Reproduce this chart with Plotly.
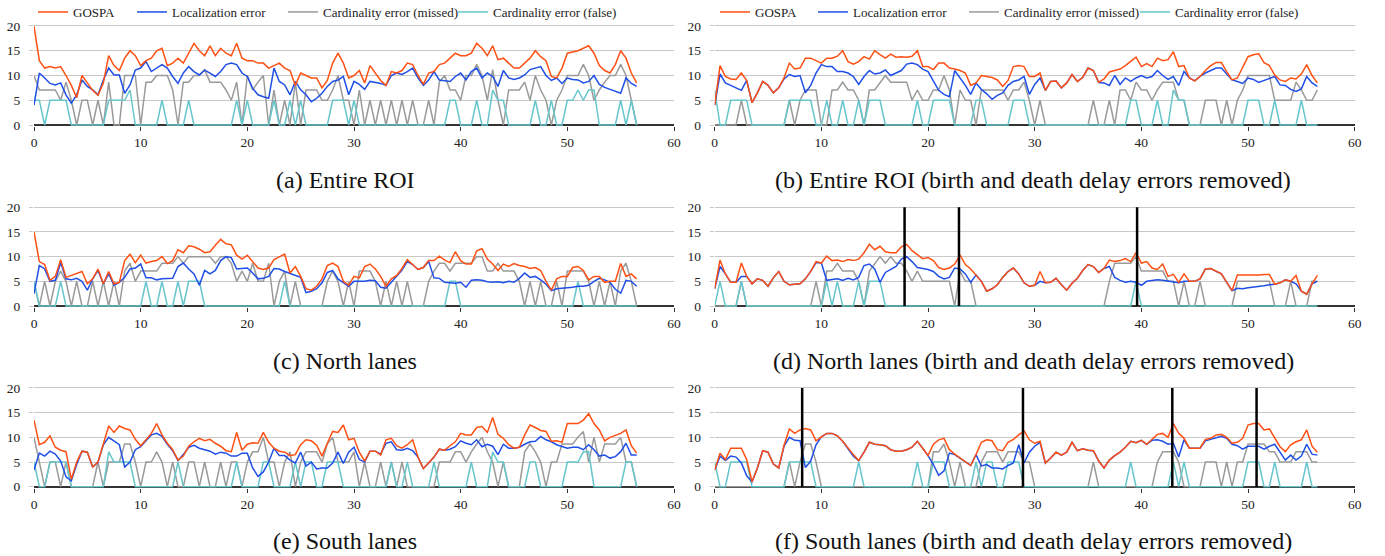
import plotly.graph_objects as go

# time grid (s), one sample every 0.5 s
t = [i * 0.5 for i in range(114)]

# ---------------- (a) Entire ROI ----------------
a_gospa = [20, 13, 11.5, 11.8, 11.5, 11.8, 10, 8, 5.5, 10,
           8.5, 7, 6, 8.5, 14, 12, 11, 13.5, 15, 14,
           12, 13, 13.5, 15, 15.5, 12, 12.5, 13.5, 12.5, 14.5,
           16.5, 15, 14, 16, 14, 15.5, 14.5, 14, 16.5, 13.5,
           13, 13, 12.5, 12.5, 11.5, 12, 12.5, 11.5, 11, 8,
           10.5, 10, 9.5, 9.5, 7.5, 9, 12.5, 14.5, 12.5, 9.5,
           10, 11, 8.5, 12, 10.5, 9, 8, 10.8, 10.5, 11,
           12.5, 12.2, 10, 8.2, 10.5, 10.8, 12.2, 12.5, 13.5, 14.5,
           14, 14, 14.5, 16.5, 15.5, 14, 16, 13.2, 13.5, 12.5,
           11.5, 11.5, 12.5, 13.5, 15, 13.8, 13, 9.8, 9.5, 11.5,
           14.5, 14.8, 15, 15.5, 16, 14.5, 12, 11, 10.5, 12.2,
           15, 13.5, 10.5, 8.5]
a_loc = [4, 10.5, 9.5, 8.4, 8.1, 8.5, 6.1, 4.4, 6.1, 9.1,
         7.8, 7.1, 6.1, 9.1, 11.5, 10.1, 10.1, 6.4, 8.1, 11.1,
         11.5, 12.8, 10.8, 11.5, 12.2, 11.5, 9.8, 8.4, 10.5, 11.8,
         10.8, 10.1, 11.1, 10.5, 9.8, 10.8, 12.2, 12.5, 12.2, 10.5,
         9.8, 7.4, 6.1, 5.7, 5.4, 11.5, 8.8, 8.1, 6.1, 8.8,
         7.1, 6.1, 4.7, 5.4, 6.4, 7.8, 8.8, 9.1, 9.8, 6.1,
         8.8, 8.2, 7.2, 8.8, 8.6, 8.4, 8, 10, 10.5, 10.2,
         10.8, 11.5, 9.5, 8, 9.1, 10.8, 9.1, 9, 8.8, 9.8,
         10.5, 9.1, 10.8, 11.5, 9.5, 10.5, 9.8, 7.8, 11, 9.5,
         9.2, 9.5, 10.1, 11.2, 11.5, 11.8, 10, 9, 9.5, 8.4,
         9.5, 9.2, 9.1, 8.5, 8.8, 10, 8.2, 7.6, 7.2, 6.8,
         6.4, 9.5, 8.4, 7.8]
a_miss = [10, 7.07, 7.07, 7.07, 7.07, 5, 8.66, 5, 0, 5,
          5, 0, 5, 0, 8.66, 0, 0, 10, 10, 10,
          0, 8.66, 8.66, 10, 10, 10, 7.07, 0, 8.66, 8.66,
          10, 10, 11.18, 8.66, 8.66, 8.66, 7.07, 5, 8.66, 0,
          10, 7.07, 8.66, 10, 0, 7.07, 0, 5, 0, 8.66,
          0, 7.07, 7.07, 7.07, 5, 5, 7.07, 10, 5, 5,
          0, 7.07, 0, 5, 0, 5, 0, 5, 0, 5,
          0, 5, 0, 0, 5, 0, 8.66, 10, 7.07, 7.07,
          5, 10, 10, 12.25, 10, 5, 11.18, 5, 0, 7.07,
          7.07, 7.07, 8.66, 5, 10, 7.07, 5, 0, 5, 7.07,
          10, 10, 10, 12.25, 10, 5, 7.07, 8.66, 10, 10,
          12.25, 10, 5, 0]
a_false = [5, 5, 0, 5, 5, 5, 5, 0, 0, 0,
           0, 0, 0, 0, 5, 5, 5, 5, 7.07, 0,
           0, 0, 0, 0, 5, 0, 0, 0, 0, 5,
           0, 0, 0, 0, 0, 0, 0, 0, 5, 0,
           5, 0, 0, 0, 0, 5, 0, 0, 5, 0,
           5, 0, 0, 0, 0, 0, 5, 5, 5, 0,
           5, 0, 0, 0, 0, 0, 0, 0, 0, 0,
           0, 0, 0, 0, 0, 0, 0, 0, 5, 5,
           0, 0, 0, 5, 0, 0, 7.07, 5, 5, 0,
           0, 0, 0, 0, 5, 0, 0, 5, 0, 0,
           5, 5, 7.07, 5, 7.07, 7.07, 0, 0, 0, 0,
           5, 0, 5, 0]

# ---------------- (b) Entire ROI, delays removed ----------------
b_gospa = [4, 12, 9.8, 9.3, 9.2, 10.5, 9, 4.5, 6.5, 8.8,
           8, 6.5, 7.5, 9.5, 12.5, 11.3, 11.5, 13.5, 13.5, 13,
           12.5, 13.5, 13.5, 13.9, 15, 12.8, 12.3, 12.8, 13.8, 13.3,
           15, 14.2, 13.5, 14.3, 13.7, 13.8, 13.7, 13.9, 15, 11.8,
           11.8, 11.2, 12.5, 12.5, 11.5, 11.3, 11, 10.5, 8, 8.5,
           10, 9.8, 9.6, 9.1, 7.8, 9, 11.8, 12, 11.8, 9.8,
           9.8, 10.5, 7, 8.8, 8.9, 7.5, 8.5, 10.2, 8.8, 9.6,
           11.5, 11, 8.6, 9.3, 10.7, 11, 11.3, 12, 12.8, 13.7,
           11.8, 12.4, 11.8, 13.5, 13, 13.2, 14.8, 11.8, 12, 9.5,
           8.9, 9.8, 11, 12, 12.6, 12.6, 10.8, 9.1, 9.5, 11.5,
           13.8, 14.2, 14.4, 12.6, 12, 10.1, 9.1, 8.8, 9.5, 9.3,
           10.3, 12.2, 10, 8.5]
b_loc = [4, 10.3, 8.5, 8, 7.5, 7, 9, 4.5, 6.5, 8.8,
         8, 6.5, 7.5, 9.3, 10.2, 9.8, 10, 6.5, 8, 10.5,
         12.2, 11.8, 11.8, 10.8, 10.8, 10.5, 9.8, 8.2, 9.8, 11,
         10.3, 10.5, 11.1, 10, 10.5, 11, 12.3, 12.5, 12.2, 11.3,
         10.8, 9, 7, 6.2, 5.7, 11, 9.5, 8, 6.2, 8.5,
         7.2, 6.3, 5.2, 6, 6.5, 8, 8.8, 9.1, 9.8, 6.2,
         8.2, 9.5, 7, 8.8, 8.9, 7.5, 8.5, 10.2, 8.8, 9.6,
         11.5, 11, 8.6, 8.5, 8, 10, 8.2, 9.5, 8.8, 9.5,
         10, 9.5, 9.8, 11, 10, 9.2, 9.8, 8, 10.8, 9.5,
         8.9, 9.8, 10.5, 11, 11.5, 11.5, 10.3, 9.1, 8.8, 8.4,
         9.5, 9.2, 8.6, 9, 9.5, 9.8, 8.1, 8, 7.2, 6.8,
         7.3, 9.8, 8.5, 7.8]
b_miss = [0, 0, 0, 0, 0, 5, 0, 0, 0, 0,
          0, 0, 0, 0, 5, 0, 5, 7.07, 7.07, 7.07,
          0, 0, 7.07, 7.07, 8.66, 7.07, 7.07, 5, 0, 7.07,
          7.07, 8.66, 10, 8.66, 8.66, 8.66, 8.66, 5, 7.07, 5,
          5, 7.07, 7.07, 10, 7.07, 0, 7.07, 5, 5, 0,
          7.07, 7.07, 7.07, 7.07, 7.07, 5, 7.07, 7.07, 8.66, 5,
          0, 5, 0, 0, 0, 0, 0, 0, 0, 0,
          0, 5, 0, 0, 5, 0, 7.07, 7.07, 5, 8.66,
          7.07, 7.07, 5, 7.07, 8.66, 8.66, 8.66, 5, 5, 0,
          0, 0, 5, 5, 5, 0, 5, 0, 5, 7.07,
          10, 10, 10, 10, 10, 5, 5, 5, 5, 8.66,
          7.07, 5, 5, 7.07]
b_false = [7.07, 0, 0, 5, 5, 5, 5, 0, 0, 0,
           0, 0, 0, 0, 5, 5, 5, 5, 5, 0,
           0, 5, 0, 0, 5, 0, 0, 5, 0, 5,
           5, 5, 0, 0, 0, 0, 0, 0, 5, 0,
           0, 5, 5, 5, 5, 0, 0, 0, 0, 5,
           5, 0, 0, 0, 0, 0, 5, 5, 5, 0,
           0, 0, 0, 0, 0, 0, 0, 0, 0, 0,
           0, 0, 0, 0, 0, 0, 0, 0, 5, 5,
           0, 0, 0, 5, 0, 0, 7.07, 5, 5, 0,
           0, 0, 0, 0, 0, 0, 0, 0, 0, 0,
           5, 5, 5, 0, 0, 5, 0, 0, 0, 0,
           5, 0, 0, 0]

# ---------------- (c) North lanes ----------------
c_gospa = [15, 9, 8.4, 5.2, 6, 9.4, 5.8, 6.2, 6.5, 7,
           4.5, 5.5, 7.5, 4.5, 7, 4.5, 4.8, 9.2, 10.5, 8.8,
           10.3, 8.7, 9, 9.2, 10, 8.6, 9.2, 11.4, 10.8, 12.2,
           12, 11.5, 10.8, 11, 12.3, 13.5, 12.6, 12.4, 10.3, 9.5,
           10.3, 9, 7.7, 7.4, 7.7, 9.4, 10, 10.5, 6.7, 8,
           6, 3.5, 3.2, 4, 5.5, 8.2, 8.7, 8, 5, 4.2,
           6, 5.7, 8, 8.5, 7.5, 6, 4, 5.5, 6.2, 7.6,
           9.4, 8.4, 7.4, 7.8, 9.2, 9.2, 10.1, 9.3, 8.8, 11,
           9.2, 8.5, 8.5, 11.2, 11.6, 9.5, 8.5, 7.2, 8.5, 8,
           8.6, 8.2, 8, 7.6, 7.8, 7.2, 5, 3.2, 5.5, 6,
           6, 7.8, 8, 7.2, 5.3, 6, 6, 4.8, 5, 5,
           8.6, 6, 6.5, 5.5]
c_loc = [2.5, 8.2, 7.5, 5, 5.2, 8.8, 5.5, 5.3, 5.6, 5,
         3.2, 5.5, 7.2, 4.5, 6.5, 4.2, 4.8, 5.8, 7.5, 7.7,
         8.5, 5.7, 5.7, 5.3, 5.5, 5.6, 5.6, 8, 8.7, 7.5,
         6.5, 4.2, 7.2, 6.5, 7.2, 9.2, 10, 9.8, 7.5, 7.6,
         7.7, 6.7, 5.5, 5.6, 6, 7.6, 7.5, 7, 6.6, 6.3,
         5.8, 2.7, 3, 3.5, 4.7, 6.8, 7.2, 5.5, 4.8, 4,
         5, 5, 5, 5.2, 5.1, 3.8, 3.6, 4.8, 6, 7.3,
         9, 8.4, 7.4, 7.8, 9, 5.7, 5.6, 4.8, 4.7, 4.6,
         4.8, 3.8, 5.2, 5.3, 5.2, 4.9, 4.8, 4.9, 4.7, 5,
         4.8, 5.6, 6.7, 5.8, 6, 5.3, 4.4, 3.1, 3.5, 3.6,
         3.6, 3.8, 4, 4, 4.2, 5, 5.6, 5.3, 4.8, 3.4,
         2.6, 5.2, 5, 4]
c_miss = [5, 0, 5, 0, 5, 7.07, 5, 0, 5, 0,
          0, 5, 0, 5, 0, 5, 0, 7.07, 8.66, 5,
          7.07, 7.07, 7.07, 7.07, 8.66, 8.66, 8.66, 10, 8.66, 10,
          10, 10, 10, 10, 8.66, 10, 10, 8.66, 5, 7.07,
          5, 8.66, 5, 5, 8.66, 0, 5, 7.07, 0, 5,
          0, 0, 0, 0, 0, 5, 7.07, 5, 0, 5,
          0, 7.07, 7.07, 7.07, 5, 0, 5, 0, 5, 0,
          5, 0, 0, 0, 5, 7.07, 8.66, 8.66, 7.07, 8.66,
          8.66, 8.66, 8.66, 10, 10, 7.07, 7.07, 8.66, 7.07, 7.07,
          7.07, 5, 0, 5, 0, 5, 0, 0, 5, 0,
          7.07, 7.07, 7.07, 7.07, 5, 0, 5, 0, 5, 0,
          7.07, 8.66, 5, 0]
c_false = [5, 0, 0, 0, 0, 5, 0, 0, 0, 0,
           0, 0, 0, 0, 0, 0, 0, 0, 0, 0,
           0, 5, 0, 0, 5, 0, 0, 5, 0, 5,
           5, 5, 0, 0, 0, 0, 0, 0, 0, 0,
           0, 0, 0, 0, 0, 0, 0, 5, 0, 0,
           0, 0, 0, 0, 0, 0, 0, 0, 0, 0,
           0, 0, 0, 0, 0, 0, 0, 0, 0, 0,
           0, 0, 0, 0, 0, 0, 0, 0, 5, 5,
           0, 0, 0, 0, 0, 0, 0, 0, 0, 0,
           0, 0, 0, 0, 0, 0, 0, 0, 0, 0,
           0, 0, 5, 0, 0, 0, 0, 0, 0, 0,
           0, 0, 0, 0]

# ---------------- (d) North lanes, delays removed ----------------
d_gospa = [3.5, 9.3, 6.5, 4.8, 4.8, 8.7, 6, 4.5, 5.5, 5.2,
           4, 5.7, 7, 5, 4.3, 4.4, 4.5, 5.5, 7, 9,
           8.7, 10.1, 9.2, 9.3, 9, 9.4, 9.2, 9.5, 10.8, 12.5,
           11.4, 12.1, 11, 10.8, 10.8, 12, 12.5, 11.2, 10.4, 9.6,
           9.8, 9.2, 7.8, 7.4, 7.7, 8.5, 10.3, 8.4, 7.5, 6.3,
           5, 3, 3.5, 4.3, 5.8, 7, 7.7, 6.5, 4.7, 4,
           4.2, 7, 4.7, 4.8, 5.6, 4.3, 3.2, 4.6, 5.6, 7.2,
           8.4, 8, 6.8, 7.6, 9.3, 9, 9.2, 9.6, 9, 10.8,
           8.7, 9, 7.7, 7.4, 8.5, 6, 6.4, 4.8, 6.5, 5,
           5, 5.5, 7.5, 7.6, 7.1, 6.5, 4.8, 3.1, 6.3, 6.3,
           6.2, 6.2, 6.3, 6.4, 6.4, 4.4, 4.7, 5.3, 5, 6.2,
           3, 2.4, 4.5, 6.2]
d_loc = [3.5, 8, 6.5, 4.8, 4.8, 6, 6, 4.5, 5.5, 5.2,
         4, 5.7, 7, 5, 4.3, 4.4, 4.5, 5.5, 7, 8.8,
         8.7, 5.2, 5.3, 5.5, 5.2, 5.6, 5.3, 5.8, 8.2, 8.5,
         7.5, 4.8, 6.8, 7.4, 8, 9.5, 10, 9, 7.8, 7.6,
         7.4, 7, 6, 5.5, 5.8, 7.7, 7.5, 6.5, 4.8, 6.3,
         5, 3, 3.5, 4.3, 5.8, 7, 7.7, 6.5, 4.7, 4,
         4.2, 5, 4.7, 4.8, 5.6, 4.3, 3.2, 4.6, 5.6, 7.2,
         8.4, 8, 6.8, 7.6, 8, 5.8, 5.2, 4.8, 5, 4.8,
         4.2, 5, 5.2, 5.3, 5.2, 5, 4.8, 4.7, 5, 5,
         5, 5.5, 7.5, 7.6, 7.1, 6.5, 4.8, 3.1, 3.6, 3.5,
         3.7, 3.8, 3.9, 4.1, 4.3, 4.4, 4.7, 5.3, 5, 4.5,
         3, 2.4, 4.5, 5]
d_miss = [0, 0, 0, 0, 0, 5, 0, 0, 0, 0,
          0, 0, 0, 0, 0, 0, 0, 0, 0, 5,
          0, 7.07, 7.07, 8.66, 7.07, 7.07, 7.07, 5, 0, 7.07,
          8.66, 10, 8.66, 10, 8.66, 8.66, 7.07, 5, 7.07, 5,
          5, 5, 5, 5, 5, 0, 7.07, 5, 5, 0,
          0, 0, 0, 0, 0, 0, 0, 0, 0, 0,
          0, 0, 0, 0, 0, 0, 0, 0, 0, 0,
          0, 0, 0, 0, 5, 8.66, 8.66, 8.66, 8.66, 10,
          7.07, 7.07, 7.07, 7.07, 7.07, 5, 5, 0, 5, 0,
          0, 5, 0, 0, 0, 0, 0, 0, 5, 5,
          5, 5, 5, 5, 5, 0, 0, 0, 5, 0,
          0, 0, 5, 5]
d_false = [0, 5, 0, 0, 0, 5, 0, 0, 0, 0,
           0, 0, 0, 0, 0, 0, 0, 0, 0, 0,
           0, 5, 0, 5, 0, 0, 0, 5, 0, 5,
           5, 5, 0, 0, 0, 0, 0, 0, 0, 0,
           0, 0, 0, 0, 0, 0, 0, 0, 0, 0,
           0, 0, 0, 0, 0, 0, 0, 0, 0, 0,
           0, 0, 0, 0, 0, 0, 0, 0, 0, 0,
           0, 0, 0, 0, 0, 0, 0, 0, 0, 5,
           0, 0, 0, 0, 0, 0, 0, 0, 0, 0,
           0, 0, 0, 0, 0, 0, 0, 0, 0, 0,
           0, 0, 0, 0, 0, 0, 0, 0, 0, 0,
           0, 0, 0, 0]
d_marks = [17.8, 22.9, 39.6]

# ---------------- (e) South lanes ----------------
e_gospa = [13.5, 8.5, 9, 10.3, 8, 7.4, 7.1, 1.5, 5, 7.2,
           7, 4, 5, 8.8, 12.3, 11, 12.3, 11.8, 11.5, 9.6,
           8.3, 9.5, 10.8, 12.8, 10.5, 8.8, 7.5, 5.4, 6.2, 8.2,
           9.1, 9.8, 9.3, 9.6, 8.8, 8.2, 7.3, 7.1, 11, 7.4,
           8.6, 8.9, 8.8, 11, 9, 7.8, 7.2, 7, 6.3, 6.5,
           8.5, 9.5, 9.3, 8.4, 6.2, 8.8, 11.2, 11, 12.5, 9.5,
           9.8, 7, 5.2, 7.2, 7.2, 6.4, 9.5, 9.8, 8.3, 7.8,
           8.5, 9.5, 6, 3.7, 4.8, 6, 7.6, 7.4, 8.3, 9.1,
           10.8, 10.5, 10.5, 12, 12.2, 11, 14, 10.6, 9.8, 8.5,
           7.8, 8, 10.5, 12.5, 12, 11.4, 11.2, 9.2, 9.3, 9,
           12.8, 12.8, 12.8, 13.5, 14.8, 12.8, 11.5, 9.3, 10, 10.4,
           10.8, 11.5, 8.3, 6.8]
e_loc = [3.4, 6.8, 6.2, 7.2, 6.6, 5.2, 2, 1.2, 4.5, 7.2,
         7, 4, 5, 8.5, 10, 9.2, 8.5, 4, 5, 7.5,
         8.1, 9.3, 10.5, 10.8, 10.2, 8.6, 7.3, 5.3, 6.5, 8,
         8.4, 7.8, 7.5, 7.2, 6.6, 7, 6.8, 6.2, 6.2, 6.8,
         6.8, 3.8, 2.1, 3, 5, 7.8, 6.3, 6.3, 5.4, 4.8,
         7, 4.2, 5, 3.6, 3.8, 3.8, 4.8, 7, 4.7, 7,
         8, 5.5, 5, 7.2, 7.2, 6.6, 8.8, 9.1, 7.5, 7.4,
         7.8, 7.3, 6, 3.7, 4.8, 6, 7.6, 7.4, 7.6, 8.1,
         9.3, 8.8, 8.5, 9.5, 8.1, 8.6, 8.2, 6.5, 8.6, 7.8,
         7.8, 8, 8.6, 9.1, 9.2, 10.2, 9.5, 9.1, 8.5, 8.2,
         7.8, 8, 8, 7.5, 8.5, 7.5, 6.2, 6.4, 5.8, 6.1,
         7.1, 8.8, 6.4, 6.4]
e_miss = [10, 5, 0, 5, 5, 0, 5, 0, 0, 0,
          0, 0, 5, 0, 5, 5, 5, 8.66, 8.66, 5,
          0, 5, 5, 7.07, 5, 0, 5, 0, 0, 5,
          5, 0, 5, 0, 0, 5, 0, 5, 5, 0,
          5, 7.07, 7.07, 10, 5, 5, 0, 5, 7.07, 0,
          5, 7.07, 7.07, 7.07, 5, 8.66, 10, 5, 5, 5,
          7.07, 0, 5, 0, 0, 5, 0, 5, 0, 5,
          0, 0, 0, 0, 0, 0, 5, 5, 5, 7.07,
          7.07, 5, 7.07, 8.66, 10, 7.07, 5, 0, 5, 0,
          0, 0, 7.07, 8.66, 7.07, 5, 0, 5, 5, 8.66,
          8.66, 8.66, 10, 11.18, 5, 10, 5, 8.66, 8.66, 8.66,
          10, 5, 5, 0]
e_false = [5, 0, 0, 5, 5, 5, 5, 0, 0, 0,
           0, 0, 0, 0, 7.07, 5, 5, 5, 5, 0,
           0, 0, 0, 0, 0, 0, 0, 5, 0, 0,
           0, 0, 0, 0, 0, 0, 0, 0, 5, 0,
           0, 0, 0, 5, 5, 0, 0, 0, 0, 5,
           0, 5, 5, 0, 0, 5, 5, 5, 0, 0,
           0, 0, 0, 0, 0, 0, 0, 5, 0, 0,
           5, 0, 0, 0, 0, 5, 0, 0, 0, 0,
           0, 0, 5, 0, 0, 0, 7.07, 5, 5, 0,
           0, 0, 0, 5, 5, 0, 0, 0, 0, 0,
           5, 5, 5, 7.07, 7.07, 0, 0, 0, 0, 0,
           0, 5, 5, 0]

# ---------------- (f) South lanes, delays removed ----------------
f_gospa = [3.4, 6.8, 5.5, 7.8, 7.8, 7.8, 5.5, 1, 3.8, 7.3,
           7, 4.6, 3.8, 8.4, 11.7, 10.8, 11.5, 11.8, 11.5, 9.3,
           10.1, 10.8, 10.8, 10.3, 9.2, 7.8, 6.5, 5.3, 7, 9,
           8.6, 8.5, 8.3, 7.5, 7.2, 7.2, 7.5, 8, 9.2, 7.8,
           6.3, 8.6, 9.5, 9.8, 7.5, 6.6, 5.8, 5.1, 4.3, 6.5,
           9, 9.5, 9.3, 7.5, 7.3, 9, 9.6, 10.5, 11.3, 9.5,
           8.8, 9.2, 4.8, 5.8, 7, 6.4, 7, 9, 7.3, 7.7,
           7.4, 7.3, 5.2, 3.8, 5.4, 6.3, 7, 8, 9.2, 8.9,
           9.4, 8.6, 9.6, 10.6, 10.8, 10, 12.8, 10.8, 9.8, 7.8,
           7.8, 7.8, 9.6, 9.8, 10.5, 10.6, 10, 8.8, 9, 9.8,
           12.5, 12.8, 12.8, 11.5, 11.7, 9.8, 8.1, 7.1, 8.5, 9.1,
           9.5, 11.5, 8.2, 7]
f_loc = [3.4, 6.2, 5.3, 6.2, 6, 4.8, 2.2, 1, 3.8, 7.3,
         7, 4.6, 3.8, 8.2, 10, 9.4, 9.3, 3.9, 5.2, 8.5,
         10.1, 10.8, 10.8, 10.3, 9.2, 7.8, 6.2, 5.3, 7, 9,
         8.6, 8.5, 8.3, 7.5, 7.2, 7.2, 7.5, 8, 9.2, 7.8,
         6.3, 4.5, 2.3, 3.2, 6.8, 6.5, 5.8, 5.1, 4.3, 6.5,
         4.2, 4.5, 3.8, 3.8, 3.6, 4.3, 4.8, 8.5, 4.8, 7,
         8.2, 9, 4.8, 5.8, 7, 6.4, 7, 9, 7.3, 7.7,
         7.4, 7.3, 5.2, 3.8, 5.4, 6.3, 7, 8, 9.2, 8.9,
         9.4, 8.6, 9.4, 9.5, 9.2, 8.6, 8.8, 6, 9.5, 7.8,
         7.8, 7.8, 9.3, 9.6, 10, 10.2, 9.8, 8.6, 8.3, 7.6,
         8.2, 8.2, 8.2, 7.6, 8.2, 8.6, 7.1, 5.4, 6.4, 5.4,
         6.2, 8.6, 6.6, 6.4]
f_miss = [0, 0, 0, 0, 0, 0, 0, 0, 0, 0,
          0, 0, 0, 0, 5, 0, 5, 8.66, 8.66, 5,
          0, 0, 0, 0, 0, 0, 0, 0, 0, 0,
          0, 0, 0, 0, 0, 0, 0, 0, 0, 0,
          0, 7.07, 7.07, 8.66, 5, 0, 5, 0, 0, 0,
          5, 7.07, 7.07, 7.07, 5, 7.07, 7.07, 7.07, 5, 5,
          0, 0, 0, 0, 0, 0, 0, 0, 0, 0,
          0, 5, 0, 0, 0, 0, 0, 0, 0, 0,
          0, 0, 0, 5, 7.07, 7.07, 7.07, 5, 0, 0,
          0, 0, 5, 5, 5, 0, 5, 0, 5, 5,
          8.66, 8.66, 8.66, 8.66, 7.07, 7.07, 5, 5, 5, 7.07,
          7.07, 7.07, 5, 5]
f_false = [5, 0, 0, 5, 5, 5, 5, 0, 0, 0,
           0, 0, 0, 0, 5, 5, 5, 5, 5, 0,
           0, 0, 0, 0, 0, 0, 0, 5, 0, 0,
           0, 0, 0, 0, 0, 0, 0, 0, 5, 0,
           0, 5, 5, 5, 0, 0, 0, 0, 0, 5,
           0, 5, 5, 0, 0, 5, 5, 5, 0, 0,
           0, 0, 0, 0, 0, 0, 0, 0, 0, 0,
           0, 0, 0, 0, 0, 0, 0, 0, 5, 0,
           0, 0, 0, 0, 0, 0, 5, 0, 5, 0,
           0, 0, 0, 0, 0, 0, 0, 0, 0, 0,
           5, 5, 5, 0, 0, 5, 0, 0, 0, 0,
           0, 5, 0, 0]
f_marks = [8.2, 28.9, 42.9, 50.8]

x_ticks = [0, 10, 20, 30, 40, 50, 60]
y_ticks = [0, 5, 10, 15, 20]

FONT = "Liberation Serif, Times New Roman, serif"
COLORS = {"gospa": "#ff5014", "loc": "#1f4fe6", "miss": "#9a9a9a", "false": "#66c6cc"}
NAMES = {"gospa": "GOSPA", "loc": "Localization error",
         "miss": "Cardinality error (missed)", "false": "Cardinality error (false)"}
ORDER = ["gospa", "loc", "miss", "false"]

panels = [
    ("(a) Entire ROI", a_gospa, a_loc, a_miss, a_false, [], 0, 0),
    ("(b) Entire ROI (birth and death delay errors removed)", b_gospa, b_loc, b_miss, b_false, [], 1, 0),
    ("(c) North lanes", c_gospa, c_loc, c_miss, c_false, [], 0, 1),
    ("(d) North lanes (birth and death delay errors removed)", d_gospa, d_loc, d_miss, d_false, d_marks, 1, 1),
    ("(e) South lanes", e_gospa, e_loc, e_miss, e_false, [], 0, 2),
    ("(f) South lanes (birth and death delay errors removed)", f_gospa, f_loc, f_miss, f_false, f_marks, 1, 2),
]

W, H = 1385, 556
XD = [[34 / W, 674 / W], [714.7 / W, 1354.7 / W]]
YD = [[1 - 126 / H, 1 - 24.5 / H], [1 - 307 / H, 1 - 205.8 / H], [1 - 487.7 / H, 1 - 386.5 / H]]
CAP_X = [345 / W, 1033 / W]
CAP_Y = [1 - 180 / H, 1 - 361 / H, 1 - 541 / H]
LEG_TEXT_X = [[73, 172, 323, 493], [755, 853, 1004, 1175]]

fig = go.Figure()
layout = dict(width=W, height=H, margin=dict(l=0, r=0, t=0, b=0, autoexpand=False),
              paper_bgcolor="white", plot_bgcolor="white",
              font=dict(family=FONT, size=13, color="#222"),
              annotations=[], shapes=[])

for i, (cap, g, l, m, f, marks, col, row) in enumerate(panels):
    n = i + 1
    xa = "x" if n == 1 else f"x{n}"
    ya = "y" if n == 1 else f"y{n}"
    data = {"gospa": g, "loc": l, "miss": m, "false": f}
    for key in ["miss", "false", "loc", "gospa"]:
        vals = data[key]
        legnum = col * 4 + ORDER.index(key) + 1
        legname = "legend" if legnum == 1 else f"legend{legnum}"
        fig.add_trace(go.Scatter(
            x=t[:len(vals)], y=vals, mode="lines", name=NAMES[key],
            line=dict(color=COLORS[key], width=1.5),
            xaxis=xa, yaxis=ya, showlegend=(row == 0), legend=legname,
            hoverinfo="skip"))
    sfx = "" if n == 1 else str(n)
    layout["xaxis" + sfx] = dict(domain=XD[col], anchor=ya, range=[0, 60],
                                 tickvals=x_ticks, showgrid=False, zeroline=False,
                                 showline=False, ticks="outside", ticklen=4,
                                 tickcolor="#333", automargin=False,
                                 tickfont=dict(family=FONT, size=13.5, color="#222"))
    layout["yaxis" + sfx] = dict(domain=YD[row], anchor=xa, range=[-0.2, 20.3],
                                 tickvals=y_ticks, showgrid=True, gridcolor="#c8c8c8",
                                 gridwidth=1, zeroline=True, zerolinecolor="#333",
                                 zerolinewidth=1.5, showline=False, ticks="outside",
                                 ticklen=4, tickcolor="#c8c8c8", ticklabelstandoff=6,
                                 automargin=False,
                                 tickfont=dict(family=FONT, size=13.5, color="#222"))
    layout["annotations"].append(dict(text=cap, x=CAP_X[col], y=CAP_Y[row],
                                      xref="paper", yref="paper", showarrow=False,
                                      xanchor="center", yanchor="middle",
                                      font=dict(family=FONT, size=24, color="#111")))
    for v in marks:
        layout["shapes"].append(dict(type="line", xref=xa, yref=ya, x0=v, x1=v,
                                     y0=0, y1=20, layer="above",
                                     line=dict(color="black", width=2.5)))

for col in range(2):
    for k in range(4):
        legnum = col * 4 + k + 1
        legname = "legend" if legnum == 1 else f"legend{legnum}"
        layout[legname] = dict(x=(LEG_TEXT_X[col][k] - 40) / W, xanchor="left",
                               y=1 - 12 / H, yanchor="middle", orientation="h",
                               xref="container", yref="container",
                               bgcolor="rgba(0,0,0,0)", borderwidth=0,
                               font=dict(family=FONT, size=13, color="#222"))

fig.update_layout(**layout)
fig.write_html("out.html")
